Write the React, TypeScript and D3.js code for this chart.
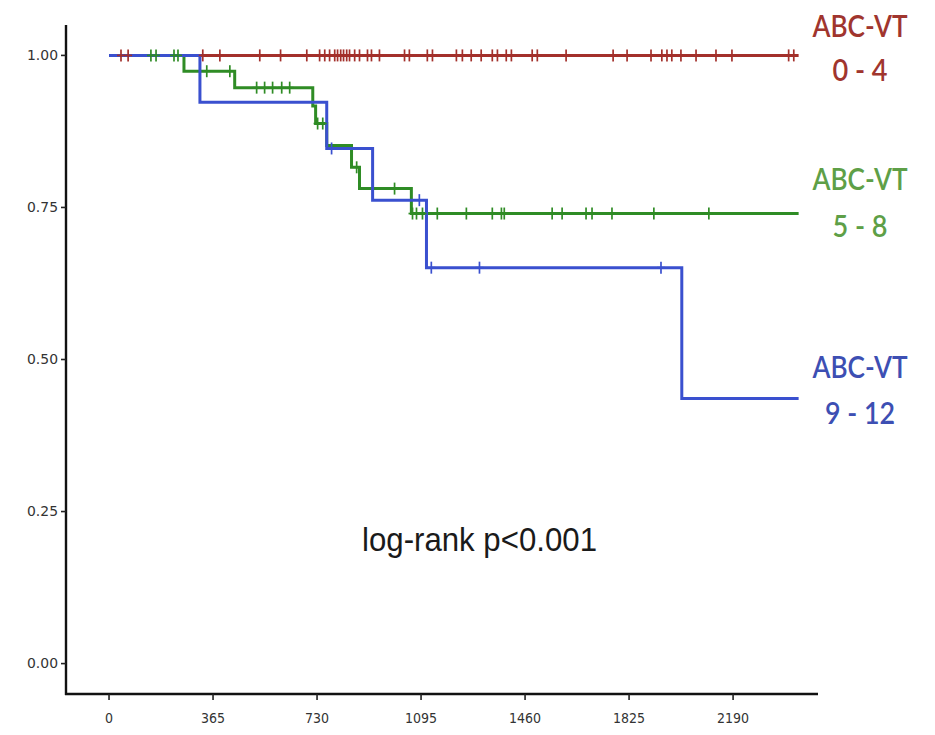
import React from "react";
import * as d3 from "d3";

// ---- data ----
const xTicks = [0, 365, 730, 1095, 1460, 1825, 2190];
const yTicks = [0, 0.25, 0.5, 0.75, 1.0];
const endDay = 2420;

const redTimes = [0];
const redSurv = [1];
const redCensor = [42, 67, 329, 389, 529, 602, 694, 739, 757, 774, 792, 802, 813, 823, 834, 844, 862, 879, 907, 921, 949, 1037, 1054, 1117, 1135, 1219, 1240, 1271, 1306, 1345, 1363, 1394, 1412, 1485, 1503, 1604, 1769, 1818, 1902, 1940, 1958, 1975, 2007, 2060, 2130, 2186, 2385, 2403];

const greenTimes = [0, 263, 441, 715, 725, 764, 851, 879, 1061];
const greenSurv = [1, 0.974, 0.947, 0.917, 0.888, 0.852, 0.816, 0.781, 0.74];
const greenCensor = [147, 165, 228, 242, 343, 424, 518, 546, 574, 606, 634, 732, 750, 869, 1002, 1065, 1079, 1100, 1152, 1254, 1345, 1377, 1387, 1555, 1590, 1674, 1695, 1765, 1912, 2105];

const blueTimes = [0, 319, 764, 925, 1114, 2010];
const blueSurv = [1, 0.923, 0.847, 0.762, 0.651, 0.436];
const blueCensor = [781, 1089, 1131, 1300, 1937];

const groups = [
  { key: "red", times: redTimes, surv: redSurv, censor: redCensor, color: "#a3302b", label: ["ABC-VT", "0 - 4"], labelColor: "#a0352e", y1: 37, y2: 81, w2: 55 },
  { key: "green", times: greenTimes, surv: greenSurv, censor: greenCensor, color: "#2f8c25", label: ["ABC-VT", "5 - 8"], labelColor: "#5e9f47", y1: 190, y2: 237, w2: 55 },
  { key: "blue", times: blueTimes, surv: blueSurv, censor: blueCensor, color: "#3a50cf", label: ["ABC-VT", "9 - 12"], labelColor: "#3d4fb3", y1: 378, y2: 424, w2: 70 },
];

const W = 935;
const H = 735;

export default function App() {
  const x = d3.scaleLinear().domain([-151, 2488]).range([66, 818]);
  const y = d3.scaleLinear().domain([-0.05, 1.05]).range([694, 25]);

  const line = d3
    .line<[number, number]>()
    .x((d) => x(d[0]))
    .y((d) => y(d[1]))
    .curve(d3.curveStepAfter);

  const survAt = (times: number[], surv: number[], t: number) => {
    const i = d3.bisectRight(times, t) - 1;
    return surv[Math.max(0, i)];
  };

  const tickFont = "'DejaVu Sans Condensed', 'Liberation Sans Narrow', 'Roboto', sans-serif";
  const labelFont = "Lato, 'Open Sans', sans-serif";

  return (
    <div style={{ position: "fixed", left: 0, top: 0, width: W, height: H, background: "#fff" }}>
      <svg width={W} height={H} style={{ display: "block" }}>
        <rect x={0} y={0} width={W} height={H} fill="#fff" />
        {/* lines */}
        {groups.map((g) => {
          const pts: [number, number][] = g.times.map((t, i) => [t, g.surv[i]] as [number, number]);
          pts.push([endDay, g.surv[g.surv.length - 1]]);
          return <path key={g.key} d={line(pts) || ""} fill="none" stroke={g.color} strokeWidth={3} />;
        })}
        {/* censor marks */}
        {groups.map((g) => (
          <g key={g.key + "c"} stroke={g.color} strokeWidth={1.7}>
            {g.censor.map((t, i) => {
              const cx = x(t);
              const cy = y(survAt(g.times, g.surv, t));
              return (
                <g key={i}>
                  <line x1={cx} x2={cx} y1={cy - 6} y2={cy + 6} />
                  <line x1={cx - 4} x2={cx + 4} y1={cy} y2={cy} />
                </g>
              );
            })}
          </g>
        ))}
        {/* axes */}
        <line x1={66} x2={66} y1={25} y2={695} stroke="#111" strokeWidth={2.4} />
        <line x1={65} x2={818} y1={694} y2={694} stroke="#111" strokeWidth={2.6} />
        {yTicks.map((v) => (
          <g key={"y" + v}>
            <line x1={61} x2={66} y1={y(v)} y2={y(v)} stroke="#222" strokeWidth={1.6} />
            <text x={58} y={y(v)} dy="0.35em" textAnchor="end" fontFamily={tickFont} fontSize={14} fill="#333" textLength={31} lengthAdjust="spacingAndGlyphs">
              {v.toFixed(2)}
            </text>
          </g>
        ))}
        {xTicks.map((v) => (
          <g key={"x" + v}>
            <line x1={x(v)} x2={x(v)} y1={694} y2={700} stroke="#222" strokeWidth={1.6} />
            <text x={x(v)} y={723} textAnchor="middle" fontFamily={tickFont} fontSize={14} fill="#333">
              {v}
            </text>
          </g>
        ))}
        {/* group labels */}
        {groups.map((g) => (
          <g key={g.key + "l"} fill={g.labelColor} fontFamily={labelFont} fontSize={31} fontWeight={600}>
            <text x={860} y={g.y1} textAnchor="middle" textLength={95} lengthAdjust="spacingAndGlyphs">
              {g.label[0]}
            </text>
            <text x={860} y={g.y2} textAnchor="middle" textLength={g.w2} lengthAdjust="spacingAndGlyphs">
              {g.label[1]}
            </text>
          </g>
        ))}
        <text x={362} y={551} fontFamily="'Liberation Sans', Arial, sans-serif" fontSize={34} fill="#1a1a1a" textLength={235} lengthAdjust="spacingAndGlyphs">
          log-rank p&lt;0.001
        </text>
      </svg>
    </div>
  );
}
